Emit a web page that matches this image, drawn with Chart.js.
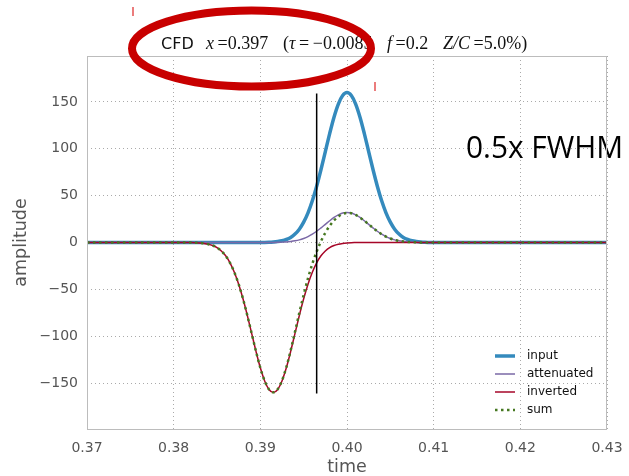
<!DOCTYPE html>
<html>
<head>
<meta charset="utf-8">
<script src="https://cdn.jsdelivr.net/npm/chart.js@4.4.1/dist/chart.umd.min.js"></script>
<style>
  html, body { margin: 0; padding: 0; background: #fff; }
  canvas { display: block; }
</style>
</head>
<body>
<canvas id="c" width="629" height="476"></canvas>
<script>
// ---- data ----
const TIME = [0.370, 0.376, 0.380,
  0.3820, 0.3825, 0.3830, 0.3835, 0.3840, 0.3845, 0.3850, 0.3855, 0.3860, 0.3865,
  0.3870, 0.3875, 0.3880, 0.3885, 0.3890, 0.3895, 0.3900, 0.3905, 0.3910, 0.3915,
  0.3920, 0.3925, 0.3930, 0.3935, 0.3940, 0.3945, 0.3950, 0.3955, 0.3960, 0.3965,
  0.3970, 0.3975, 0.3980, 0.3985, 0.3990, 0.3995, 0.4000, 0.4005, 0.4010, 0.4015,
  0.4020, 0.4025, 0.4030, 0.4035, 0.4040, 0.4045, 0.4050, 0.4055, 0.4060, 0.4065,
  0.4070, 0.4075, 0.4080, 0.4085, 0.4090, 0.4095, 0.4100,
  0.413, 0.420, 0.430];

const INPUT = [0, 0, 0,
  0, 0, 0, 0, 0, 0, 0, 0, 0, 0,
  0, 0, 0, 0, 0, 0, 0.1, 0.1, 0.2, 0.5,
  1.0, 1.8, 3.2, 5.4, 9.0, 14.2, 21.7, 31.7, 44.5, 60.1,
  77.9, 97.0, 116.2, 133.7, 147.7, 156.8, 160, 156.8, 147.7, 133.7,
  116.2, 97.0, 77.9, 60.1, 44.5, 31.7, 21.7, 14.2, 9.0, 5.4,
  3.2, 1.8, 1.0, 0.5, 0.2, 0.1, 0,
  0, 0, 0];

const ATTENUATED = [0, 0, 0,
  0, 0, 0, 0, 0, 0, 0, 0, 0, 0,
  0, 0, 0, 0, 0, 0, 0, 0, 0, 0.1,
  0.2, 0.4, 0.6, 1.1, 1.8, 2.8, 4.3, 6.3, 8.9, 12.0,
  15.6, 19.4, 23.2, 26.7, 29.5, 31.4, 32.0, 31.4, 29.5, 26.7,
  23.2, 19.4, 15.6, 12.0, 8.9, 6.3, 4.3, 2.8, 1.8, 1.1,
  0.6, 0.4, 0.2, 0.1, 0, 0, 0,
  0, 0, 0];

const INVERTED = [0, 0, 0,
  -0.1, -0.2, -0.5, -1.0, -1.8, -3.2, -5.4, -9.0, -14.2, -21.7,
  -31.7, -44.5, -60.1, -77.9, -97.0, -116.2, -133.7, -147.7, -156.8, -160,
  -156.8, -147.7, -133.7, -116.2, -97.0, -77.9, -60.1, -44.5, -31.7, -21.7,
  -14.2, -9.0, -5.4, -3.2, -1.8, -1.0, -0.5, -0.2, -0.1, 0,
  0, 0, 0, 0, 0, 0, 0, 0, 0, 0,
  0, 0, 0, 0, 0, 0, 0,
  0, 0, 0];

const SUM = [0, 0, 0,
  -0.1, -0.2, -0.5, -1.0, -1.8, -3.2, -5.4, -9.0, -14.2, -21.7,
  -31.7, -44.5, -60.1, -77.9, -97.0, -116.2, -133.7, -147.7, -156.8, -159.9,
  -156.6, -147.3, -133.1, -115.1, -95.2, -75.1, -55.8, -38.2, -22.8, -9.7,
  1.4, 10.4, 17.8, 23.5, 27.7, 30.4, 31.5, 31.2, 29.4, 26.7,
  23.2, 19.4, 15.6, 12.0, 8.9, 6.3, 4.3, 2.8, 1.8, 1.1,
  0.6, 0.4, 0.2, 0.1, 0, 0, 0,
  0, 0, 0];

const CFD_X = 0.3965;
const CFD_Y = [-161, 159];

const X_TICKS = [0.37, 0.38, 0.39, 0.40, 0.41, 0.42, 0.43];
const Y_TICKS = [-150, -100, -50, 0, 50, 100, 150];

const SERIES_NAMES = ['input', 'attenuated', 'inverted', 'sum'];
const COLORS = ['#348ABD', '#7A68A6', '#A60628', '#467821'];

// ---- helpers ----
const pts = (ys) => TIME.map((t, i) => ({ x: t, y: ys[i] }));
const SANS = '"DejaVu Sans", sans-serif';
const SERIF = '"Liberation Serif", serif';
const minus = (v) => v < 0 ? '\u2212' + Math.abs(v) : String(v);

function line(label, data, color, width, order, dash) {
  return { label, data, borderColor: color, borderWidth: width, borderDash: dash || [],
    pointRadius: 0, cubicInterpolationMode: 'monotone', fill: false, order, borderCapStyle: 'butt' };
}

// title, legend, frame and slide annotations
const overlay = {
  id: 'overlay',
  afterDraw(chart) {
    const ctx = chart.ctx, a = chart.chartArea;
    ctx.save();

    // legend (no frame, lower right)
    chart.data.datasets.slice(0, 4).forEach((ds, i) => {
      const y = 356 + i * 18;
      ctx.beginPath();
      ctx.strokeStyle = ds.borderColor;
      ctx.lineWidth = ds.borderWidth;
      ctx.setLineDash(ds.borderDash);
      ctx.moveTo(495, y); ctx.lineTo(515, y);
      ctx.stroke();
      ctx.setLineDash([]);
      ctx.fillStyle = '#111';
      ctx.font = '12px ' + SANS;
      ctx.textBaseline = 'middle';
      ctx.textAlign = 'left';
      ctx.fillText(ds.label, 527, y);
    });

    // big slide note
    ctx.fillStyle = '#000';
    ctx.font = '31px "Open Sans", sans-serif';
    ctx.textBaseline = 'alphabetic';
    ctx.fillText('0.5x FWHM', 466, 158, 157);

    // axes frame
    ctx.strokeStyle = '#bcbcbc';
    ctx.lineWidth = 1;
    ctx.strokeRect(a.left + 0.5, a.top + 0.5, a.right - a.left - 1, a.bottom - a.top);

    // title with math-style pieces
    const rm = '18px ' + SERIF, it = 'italic 18px ' + SERIF;
    const groups = [
      [161, [['CFD', '16px ' + SANS]]],
      [206, [['x', it], ['\u2009=0.397', rm]]],
      [283, [['(', rm], ['\u03C4', it], ['\u2009=\u2009\u22120.0085', rm]]],
      [387, [['f', it], ['\u2009=0.2', rm]]],
      [443, [['Z/C', it], ['\u2009=5.0%)', rm]]]
    ];
    ctx.fillStyle = '#111';
    groups.forEach(([x0, parts]) => {
      let x = x0;
      parts.forEach(([t, f]) => {
        ctx.font = f;
        ctx.fillText(t, x, 49);
        x += ctx.measureText(t).width;
      });
    });

    // red ellipse drawn over the title
    ctx.beginPath();
    ctx.strokeStyle = '#c80000';
    ctx.lineWidth = 8;
    ctx.ellipse(251.5, 48.5, 119.5, 38, 0, 0, Math.PI * 2);
    ctx.stroke();

    // two small red marks
    ctx.strokeStyle = '#e03838';
    ctx.lineWidth = 1.3;
    ctx.beginPath();
    ctx.moveTo(133, 7); ctx.lineTo(133, 16);
    ctx.moveTo(375, 82); ctx.lineTo(375, 91);
    ctx.stroke();

    ctx.restore();
  }
};

new Chart(document.getElementById('c'), {
  type: 'line',
  data: {
    datasets: [
      line(SERIES_NAMES[0], pts(INPUT), COLORS[0], 3.5, 5),
      line(SERIES_NAMES[1], pts(ATTENUATED), COLORS[1], 1.5, 4),
      line(SERIES_NAMES[2], pts(INVERTED), COLORS[2], 1.5, 3),
      line(SERIES_NAMES[3], pts(SUM), COLORS[3], 2.5, 2, [2.5, 3.5]),
      { label: 'cfd', data: CFD_Y.map(y => ({ x: CFD_X, y })), borderColor: '#000', borderWidth: 1.5,
        pointRadius: 0, order: 1 }
    ]
  },
  options: {
    responsive: false,
    animation: false,
    devicePixelRatio: 1,
    layout: { padding: { top: 56, right: 22, left: 0, bottom: 0 } },
    plugins: { legend: { display: false }, tooltip: { enabled: false } },
    scales: {
      x: {
        type: 'linear', min: 0.37, max: 0.43,
        afterBuildTicks: (s) => { s.ticks = X_TICKS.map(v => ({ value: v })); },
        afterFit: (s) => { s.height = 47; s.paddingLeft = 0; s.paddingRight = 0; },
        ticks: { callback: (v) => v.toFixed(2), font: { family: SANS, size: 14 }, color: '#555',
          padding: 11, maxRotation: 0, autoSkip: false },
        grid: { color: '#aaaaaa', lineWidth: 1, drawTicks: false },
        border: { display: false, dash: [1, 3] },
        title: { display: true, text: 'time', color: '#555',
          font: { family: SANS, size: 17.5, lineHeight: 1 }, padding: { top: 0, bottom: 0 } }
      },
      y: {
        min: -199, max: 199,
        afterBuildTicks: (s) => { s.ticks = Y_TICKS.map(v => ({ value: v })); },
        afterFit: (s) => { s.width = 87; s.paddingTop = 0; s.paddingBottom = 0; },
        ticks: { callback: (v) => minus(v), font: { family: SANS, size: 14 }, color: '#555', padding: 9 },
        grid: { color: '#aaaaaa', lineWidth: 1, drawTicks: false },
        border: { display: false, dash: [1, 3] },
        title: { display: true, text: 'amplitude', color: '#555',
          font: { family: SANS, size: 17.5, lineHeight: 1 }, padding: { top: 13, bottom: 0 } }
      }
    }
  },
  plugins: [overlay]
});
</script>
</body>
</html>
